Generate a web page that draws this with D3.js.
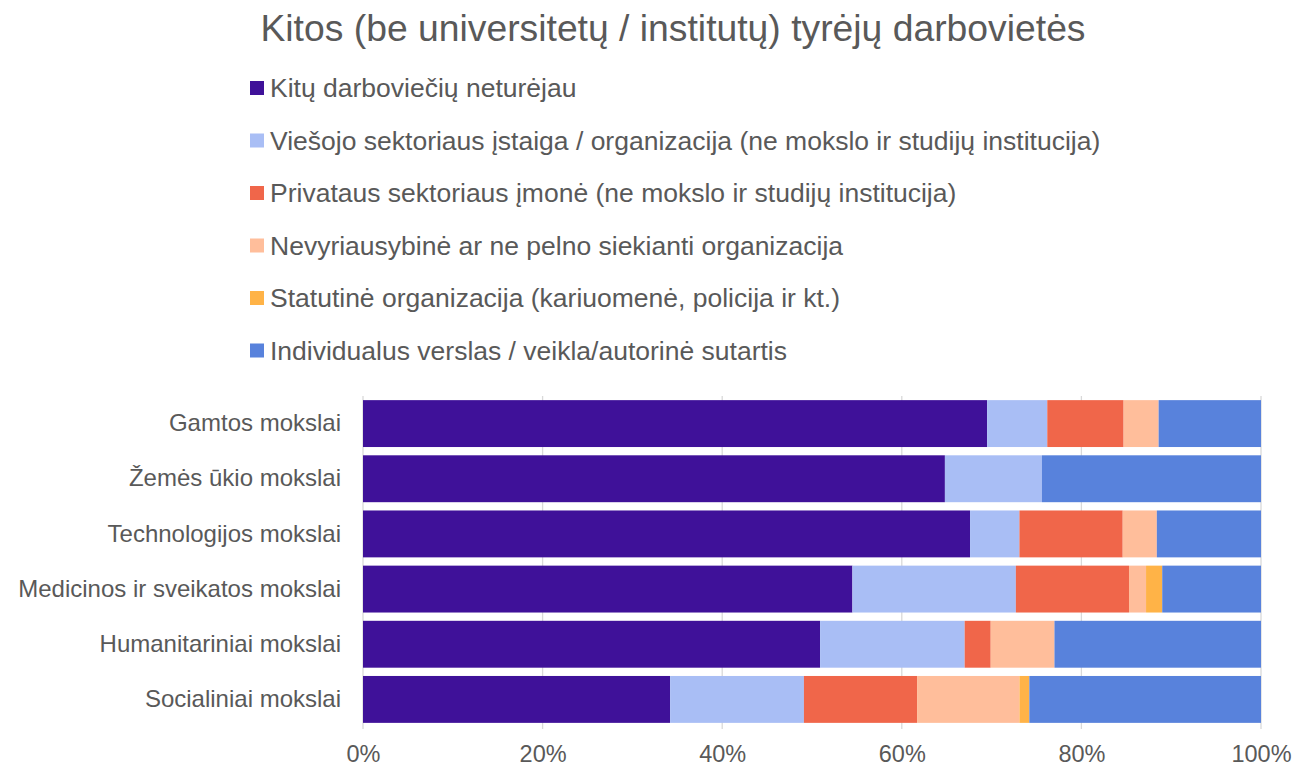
<!DOCTYPE html>
<html><head><meta charset="utf-8">
<script src="https://cdn.jsdelivr.net/npm/d3@7"></script>
<style>body{margin:0;background:#fff;font-family:"Liberation Sans",Arial,sans-serif;}</style>
</head><body><svg id="c" width="1314" height="767"></svg>
<script>
const categories = ["Gamtos mokslai","Žemės ūkio mokslai","Technologijos mokslai","Medicinos ir sveikatos mokslai","Humanitariniai mokslai","Socialiniai mokslai"];
const seriesNames = ["Kitų darboviečių neturėjau","Viešojo sektoriaus įstaiga / organizacija (ne mokslo ir studijų institucija)","Privataus sektoriaus įmonė (ne mokslo ir studijų institucija)","Nevyriausybinė ar ne pelno siekianti organizacija","Statutinė organizacija (kariuomenė, policija ir kt.)","Individualus verslas / veikla/autorinė sutartis"];
const kitu       = [69.5, 64.8, 67.6, 54.5, 50.9, 34.2];
const viesojo    = [6.7, 10.8, 5.5, 18.2, 16.1, 14.9];
const privataus  = [8.5, 0, 11.5, 12.6, 2.9, 12.6];
const nevyriaus  = [3.9, 0, 3.8, 1.9, 7.1, 11.4];
const statutine  = [0, 0, 0, 1.8, 0, 1.1];
const individual = [11.4, 24.4, 11.6, 11.0, 23.0, 25.8];
const colors = ["#3f1199","#a9bef5","#f0664a","#ffbe9b","#ffb347","#5882dc"];
const tickValues = [0,0.2,0.4,0.6,0.8,1];
const title = "Kitos (be universitetų / institutų) tyrėjų darbovietės";

const seriesVals = [kitu, viesojo, privataus, nevyriaus, statutine, individual];
const keys = seriesNames.map((d,i)=>"s"+i);
const rows = categories.map((c,ci)=>{
  const r = {cat:c};
  let tot = 0; seriesVals.forEach(v=>tot+=v[ci]);
  seriesVals.forEach((v,si)=>r["s"+si]=v[ci]/tot);
  return r;
});
const stack = d3.stack().keys(keys)(rows);

const svg = d3.select("#c");
const x = d3.scaleLinear().domain([0,1]).range([363,1261]);
const y = d3.scaleBand().domain(categories).range([396,727]).paddingInner(0.15).paddingOuter(0.075);

svg.append("text").attr("x",673).attr("y",41).attr("text-anchor","middle")
  .attr("font-size",37.3).attr("fill","#595959").text(title);

const lg = svg.append("g");
seriesNames.forEach((n,i)=>{
  const yy = 88 + i*52.5;
  lg.append("rect").attr("x",250).attr("y",yy-7).attr("width",14).attr("height",14).attr("fill",colors[i]);
  lg.append("text").attr("x",270).attr("y",yy).attr("dy","0.35em").attr("font-size",26.5).attr("fill","#595959").text(n);
});

// gridlines
svg.append("g").selectAll("line").data(tickValues).join("line")
  .attr("x1",d=>x(d)).attr("x2",d=>x(d)).attr("y1",396).attr("y2",729)
  .attr("stroke","#d9d9d9").attr("stroke-width",1.3);

svg.append("g").selectAll("g").data(stack).join("g").attr("fill",(d,i)=>colors[i])
  .selectAll("rect").data(d=>d).join("rect")
  .attr("x",d=>x(d[0])).attr("width",d=>x(d[1])-x(d[0]))
  .attr("y",d=>y(d.data.cat)).attr("height",y.bandwidth());

const xa = svg.append("g").attr("transform","translate(0,737)")
  .call(d3.axisBottom(x).tickValues(tickValues).tickFormat(d3.format(".0%")).tickSize(0).tickPadding(8));
xa.select(".domain").remove();
xa.selectAll("text").attr("font-size",23.5).attr("fill","#595959").attr("font-family","Liberation Sans, Arial, sans-serif");

const ya = svg.append("g").attr("transform","translate(351,0)")
  .call(d3.axisLeft(y).tickSize(0).tickPadding(10));
ya.select(".domain").remove();
ya.selectAll("text").attr("font-size",24).attr("fill","#595959").attr("font-family","Liberation Sans, Arial, sans-serif");
</script></body></html>
